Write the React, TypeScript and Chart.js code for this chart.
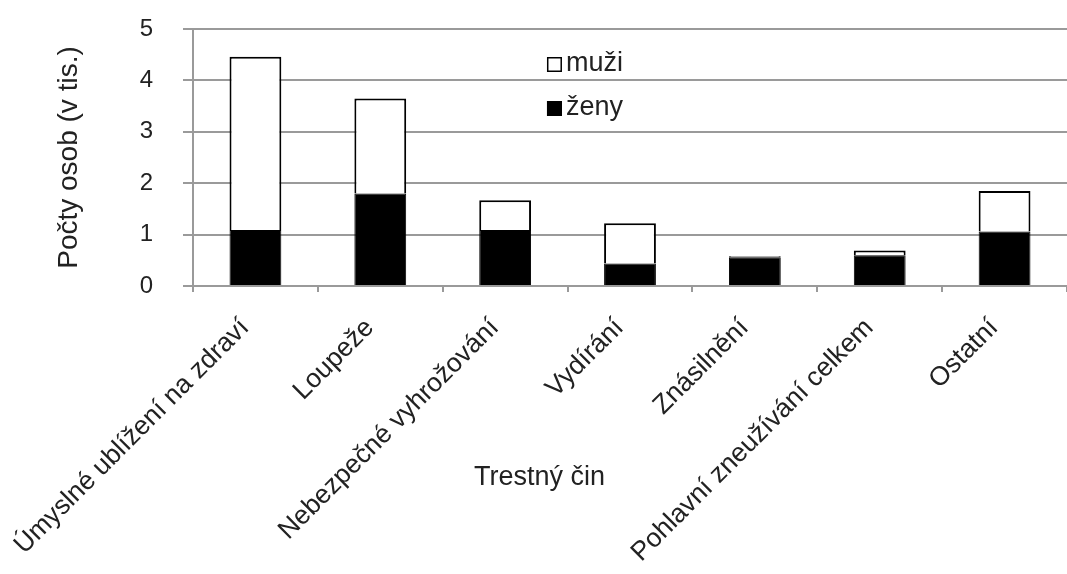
import { useEffect, useRef } from "react";
import { Chart, registerables } from "chart.js";

Chart.register(...registerables);

// Offences (x axis categories)
const categories = [
  "Úmyslné ublížení na zdraví",
  "Loupeže",
  "Nebezpečné vyhrožování",
  "Vydírání",
  "Znásilnění",
  "Pohlavní zneužívání celkem",
  "Ostatní",
];

// Number of persons in thousands, by sex (stacked: ženy at the bottom)
const zeny = [1.09, 1.8, 1.09, 0.44, 0.56, 0.6, 1.06];
const muzi = [3.37, 1.85, 0.58, 0.78, 0.02, 0.09, 0.79];

// Value axis range and step
const yMin = 0;
const yMax = 5;
const yStep = 1;

const xTitle = "Trestný čin";
const yTitle = "Počty osob (v tis.)";

const FONT = '"Liberation Sans", Arial, sans-serif';
const TEXT = "#222222";
const GRID = "#9a9a9a";

// Legend drawn inside the plot area (muži above ženy) and the category axis title
const annotations = {
  id: "annotations",
  afterDraw(chart: any) {
    const { ctx, chartArea } = chart;
    const items = [chart.data.datasets[1], chart.data.datasets[0]];
    const x0 = chartArea.left + (chartArea.right - chartArea.left) * 0.405;
    const y0 = chartArea.top + 28;
    const box = 15;
    ctx.save();
    ctx.font = `27px ${FONT}`;
    ctx.textBaseline = "middle";
    ctx.textAlign = "left";
    items.forEach((ds: any, i: number) => {
      const y = y0 + i * 44;
      ctx.fillStyle = ds.backgroundColor;
      ctx.fillRect(x0, y, box, box);
      ctx.strokeStyle = "#000";
      ctx.lineWidth = 1.5;
      ctx.strokeRect(x0 + 0.75, y + 0.75, box - 1.5, box - 1.5);
      ctx.fillStyle = TEXT;
      ctx.fillText(ds.label, x0 + box + 4, y + box / 2 - 1);
    });

    // category axis title, centred on the canvas width
    ctx.font = `27px ${FONT}`;
    ctx.textAlign = "center";
    ctx.textBaseline = "middle";
    ctx.fillStyle = TEXT;
    ctx.fillText(xTitle, chart.width / 2 + 6, chartArea.bottom + 192);
    ctx.restore();
  },
};

export default function App() {
  const canvasRef = useRef<HTMLCanvasElement | null>(null);

  useEffect(() => {
    const canvas = canvasRef.current;
    if (!canvas) return;
    const chart = new Chart(canvas, {
      type: "bar",
      data: {
        labels: categories,
        datasets: [
          {
            label: "ženy",
            data: zeny,
            backgroundColor: "#000000",
            borderColor: "#000000",
            borderWidth: 1,
            barPercentage: 0.415,
            categoryPercentage: 1,
          },
          {
            label: "muži",
            data: muzi,
            backgroundColor: "#ffffff",
            borderColor: "#000000",
            borderWidth: 2,
            borderSkipped: "start",
            barPercentage: 0.415,
            categoryPercentage: 1,
          },
        ],
      },
      options: {
        responsive: false,
        animation: false,
        layout: { padding: { top: 29, left: 0, right: 0, bottom: 0 } },
        plugins: {
          legend: { display: false },
          tooltip: { enabled: false },
          title: { display: false },
        },
        scales: {
          x: {
            stacked: true,
            offset: true,
            afterFit: (scale: any) => {
              scale.height = 288;
              scale.paddingLeft = 0;
              scale.paddingRight = 0;
            },
            grid: {
              display: true,
              drawOnChartArea: false,
              drawTicks: true,
              tickLength: 6,
              color: GRID,
              lineWidth: 2,
              offset: true,
            },
            border: { display: true, color: GRID, width: 2 },
            ticks: {
              autoSkip: false,
              minRotation: 45,
              maxRotation: 45,
              padding: 10,
              color: TEXT,
              font: { family: FONT, size: 26.5 },
              callback: (_v: any, i: number) => categories[i] + "  ",
            },
          },
          y: {
            stacked: true,
            min: yMin,
            max: yMax,
            afterFit: (scale: any) => {
              scale.width = 193;
              scale.paddingTop = 0;
              scale.paddingBottom = 0;
            },
            grid: {
              color: GRID,
              lineWidth: 2,
              tickLength: 10,
              drawTicks: true,
            },
            border: { display: true, color: GRID, width: 2 },
            ticks: {
              stepSize: yStep,
              padding: 30,
              color: TEXT,
              font: { family: FONT, size: 24 },
            },
            title: {
              display: true,
              text: yTitle,
              color: TEXT,
              font: { family: FONT, size: 28 },
              padding: { top: 52, bottom: 0 },
            },
          },
        },
      },
      plugins: [annotations],
    });
    return () => chart.destroy();
  }, []);

  return (
    <div style={{ position: "absolute", left: 0, top: 0, width: 1067, height: 574, background: "#fff" }}>
      <canvas ref={canvasRef} width={1067} height={574} style={{ display: "block" }} />
    </div>
  );
}
